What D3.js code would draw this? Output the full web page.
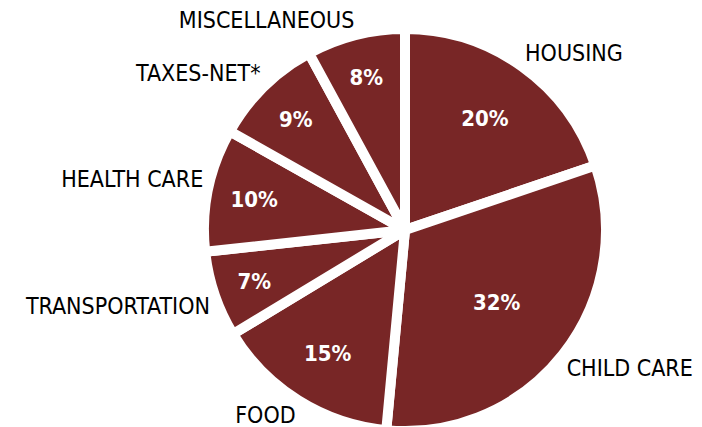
<!DOCTYPE html>
<html>
<head>
<meta charset="utf-8">
<script src="https://cdn.jsdelivr.net/npm/d3@7"></script>
<style>
  html, body { margin: 0; padding: 0; background: #fff; }
  svg { display: block; }
  text { font-family: "DejaVu Sans Condensed", "DejaVu Sans", sans-serif; }
</style>
</head>
<body>
<svg id="chart" width="702" height="427"></svg>
<script>
const categories = ["HOUSING", "CHILD CARE", "FOOD", "TRANSPORTATION", "HEALTH CARE", "TAXES-NET*", "MISCELLANEOUS"];
const values = [20, 32, 15, 7, 10, 9, 8];
const valueLabels = ["20%", "32%", "15%", "7%", "10%", "9%", "8%"];

const cx = 405, cy = 230, R = 201;
const fill = "#782626";

const svg = d3.select("#chart");
const g = svg.append("g").attr("transform", `translate(${cx},${cy})`);

const data = categories.map((c, i) => ({ cat: c, value: values[i], label: valueLabels[i] }));
const pie = d3.pie().value(d => d.value).sort(null);
const arcs = pie(data);
const arc = d3.arc().innerRadius(0).outerRadius(R);

g.selectAll("path.slice")
  .data(arcs)
  .join("path")
  .attr("class", "slice")
  .attr("d", arc)
  .attr("fill", fill)
  .attr("stroke", "#fff")
  .attr("stroke-width", 10)
  .attr("stroke-linejoin", "round");

// inside labels: wider slices keep their label nearer the centre (best-fit style)
g.selectAll("text.val")
  .data(arcs)
  .join("text")
  .attr("class", "val")
  .attr("transform", d => {
    const span = d.endAngle - d.startAngle;
    const r = R * (0.85 - 0.135 * span);
    const a = (d.startAngle + d.endAngle) / 2;
    return `translate(${Math.sin(a) * r},${-Math.cos(a) * r})`;
  })
  .attr("text-anchor", "middle")
  .attr("dominant-baseline", "central")
  .attr("fill", "#fff")
  .attr("font-weight", "bold")
  .attr("font-size", 22)
  .text(d => d.data.label);

// outside labels: nearest corner of the text box sits just outside the rim
const outR = R + 5;
const halfH = 10;
g.selectAll("text.cat")
  .data(arcs)
  .join("text")
  .attr("class", "cat")
  .each(function(d) {
    const a = (d.startAngle + d.endAngle) / 2;
    const s = Math.sin(a), c = Math.cos(a);
    const x = s * outR;
    const y = -c * outR + (c > 0 ? -halfH : halfH);
    d3.select(this)
      .attr("x", x)
      .attr("y", y)
      .attr("text-anchor", s >= 0 ? "start" : "end");
  })
  .attr("dominant-baseline", "central")
  .attr("fill", "#000")
  .attr("font-size", 23)
  .text(d => d.data.cat);
</script>
</body>
</html>
